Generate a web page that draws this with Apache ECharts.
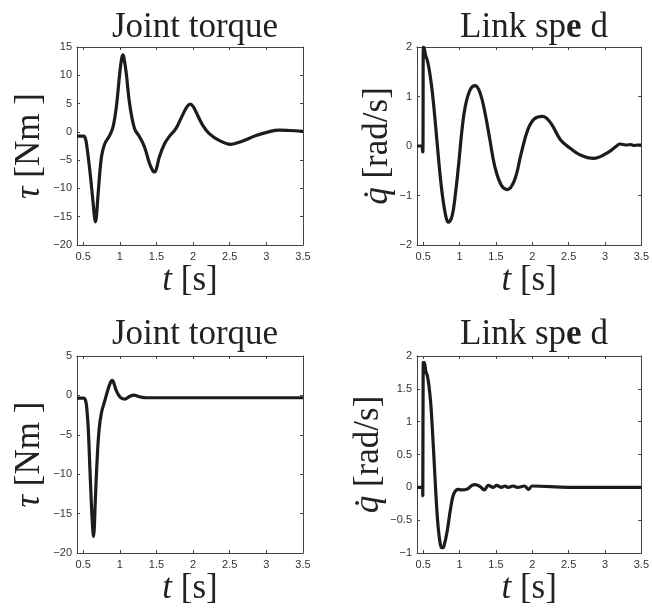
<!DOCTYPE html>
<html><head><meta charset="utf-8">
<script src="https://cdn.jsdelivr.net/npm/echarts@6/dist/echarts.min.js"></script>
<style>html,body{margin:0;padding:0;background:#fff}#c{width:652px;height:609px}</style>
</head><body><div id="c"></div>
<script>
// ---- data ----
const xTickValues = [0.5, 1, 1.5, 2, 2.5, 3, 3.5];
const xMin = 0.415, xMax = 3.5;

// top-left: joint torque (case A)
const torqueAT = [0.415,0.51,0.53,0.545,0.59,0.636,0.655,0.667,0.68,0.70,0.749,0.794,0.862,0.907,0.952,0.998,1.025,1.043,1.06,1.088,1.133,1.20,1.27,1.337,1.405,1.45,1.473,1.495,1.54,1.61,1.676,1.767,1.857,1.92,1.96,2.0,2.04,2.13,2.22,2.355,2.51,2.67,2.85,3.03,3.17,3.31,3.5];
const torqueAV = [-0.77,-0.77,-1.2,-2.1,-6.8,-12.7,-15.2,-15.9,-15.0,-11.5,-4.4,-2.1,-0.6,0.9,4.4,10.3,13.0,13.6,12.8,10.3,5.0,0.6,-0.9,-2.7,-5.6,-6.9,-7.1,-6.7,-4.4,-2.1,-0.8,0.6,3.0,4.5,4.9,4.5,3.5,1.2,-0.3,-1.5,-2.2,-1.65,-0.7,0,0.3,0.24,0.1];

// top-right: link speed (case A)
const speedAT = [0.415,0.485,0.493,0.497,0.503,0.514,0.536,0.559,0.59,0.627,0.672,0.717,0.762,0.81,0.844,0.898,0.943,0.989,1.034,1.079,1.147,1.215,1.283,1.35,1.418,1.486,1.577,1.658,1.756,1.848,1.939,2.03,2.142,2.256,2.39,2.527,2.66,2.84,3.02,3.16,3.2,3.25,3.3,3.35,3.4,3.45,3.5];
const speedAV = [0,0,-0.12,-0.1,2.0,1.97,1.82,1.72,1.48,1.07,0.39,-0.35,-0.97,-1.41,-1.54,-1.41,-0.97,-0.35,0.33,0.8,1.14,1.22,1.07,0.67,0.12,-0.42,-0.8,-0.88,-0.69,-0.15,0.33,0.55,0.6,0.46,0.12,-0.05,-0.18,-0.25,-0.15,0,0.04,0.03,0.02,0.03,0.01,0.02,0.02];

// bottom-left: joint torque (case B)
const torqueBT = [0.415,0.51,0.53,0.545,0.567,0.59,0.613,0.63,0.64,0.65,0.662,0.69,0.717,0.749,0.794,0.84,0.875,0.898,0.92,0.952,1.007,1.066,1.133,1.19,1.27,1.36,2.0,3.0,3.5];
const torqueBV = [-0.34,-0.34,-0.6,-1.3,-3.9,-9.0,-14.1,-17.0,-17.9,-17.0,-14.1,-8.1,-4.3,-2.2,-0.7,0.8,1.7,1.9,1.5,0.6,-0.26,-0.47,-0.13,0.04,-0.17,-0.3,-0.3,-0.3,-0.3];

// bottom-right: link speed (case B)
const speedBT = [0.415,0.49,0.495,0.5,0.514,0.536,0.559,0.58,0.604,0.627,0.65,0.672,0.695,0.717,0.735,0.753,0.77,0.785,0.83,0.876,0.92,0.98,1.034,1.1,1.17,1.215,1.283,1.34,1.396,1.464,1.51,1.577,1.622,1.667,1.735,1.8,1.89,1.95,2.0,2.5,3.5];
const speedBV = [0,0,-0.13,1.9,1.9,1.77,1.69,1.54,1.28,0.87,0.41,-0.05,-0.46,-0.72,-0.86,-0.92,-0.92,-0.9,-0.67,-0.33,-0.1,-0.03,-0.04,-0.03,0.03,0.04,0.01,-0.04,0.03,0,0.03,0,0.02,0,0.02,0,0.02,-0.03,0.02,0,0];

const yRanges = [[-20, 15, 5], [-2, 2, 1], [-20, 5, 5], [-1, 2, 0.5]];

// ---- build ----
const zip = (t, v) => t.map((x, i) => [x, v[i]]);
const seriesData = [zip(torqueAT, torqueAV), zip(speedAT, speedAV), zip(torqueBT, torqueBV), zip(speedBT, speedBV)];

const grids = [
  {left: 77, top: 47, width: 226, height: 198},
  {left: 417, top: 47, width: 227, height: 198},
  {left: 77, top: 356, width: 226, height: 197},
  {left: 417, top: 356, width: 227, height: 197}
];
const SERIF = 'Liberation Serif';
const lbl = {fontFamily: 'Liberation Sans', fontSize: 11, color: '#333'};
const axisLineStyle = {show: true, onZero: false, lineStyle: {color: '#444', width: 1}};
const tickStyle = {show: true, inside: true, length: 3, lineStyle: {color: '#444', width: 1}};
const minus = v => String(v).replace('-', '\u2212');

const tauName = {name: '{i|τ} [Nm ]', gap: 30};
const qName = {name: '{i|q\u0307} [rad/s]', gap: 22};
const nameRich = {
  fontFamily: SERIF, fontSize: 35, color: '#222',
  rich: {
    i: {fontFamily: SERIF, fontSize: 35, fontStyle: 'italic', color: '#222'}
  }
};

const xAxes = [], yAxes = [], series = [];
grids.forEach((g, i) => {
  xAxes.push({
    type: 'value', gridIndex: i, min: xMin, max: xMax, position: 'bottom',
    axisLine: axisLineStyle, splitLine: {show: false},
    axisTick: Object.assign({customValues: xTickValues}, tickStyle),
    axisLabel: Object.assign({customValues: xTickValues, margin: 6, formatter: minus}, lbl),
    name: '{i|t} [s]', nameLocation: 'middle', nameGap: 16, nameTextStyle: nameRich
  });
  xAxes.push({
    type: 'value', gridIndex: i, min: xMin, max: xMax, position: 'top',
    axisLine: axisLineStyle, splitLine: {show: false},
    axisTick: Object.assign({customValues: xTickValues}, tickStyle),
    axisLabel: {show: false}
  });
  const [mn, mx, iv] = yRanges[i];
  const nm = (i % 2 === 0) ? tauName : qName;
  yAxes.push({
    type: 'value', gridIndex: i, min: mn, max: mx, interval: iv, position: 'left',
    axisLine: axisLineStyle, splitLine: {show: false}, axisTick: tickStyle,
    axisLabel: Object.assign({margin: 5, formatter: minus}, lbl),
    name: nm.name, nameLocation: 'middle', nameGap: nm.gap, nameTextStyle: nameRich
  });
  yAxes.push({
    type: 'value', gridIndex: i, min: mn, max: mx, interval: iv, position: 'right',
    axisLine: axisLineStyle, splitLine: {show: false}, axisTick: tickStyle,
    axisLabel: {show: false}
  });
  series.push({
    type: 'line', xAxisIndex: i * 2, yAxisIndex: i * 2, data: seriesData[i],
    showSymbol: false, smooth: 0.4,
    lineStyle: {color: '#1c1c1c', width: 3.2}, clip: true
  });
});

const titleStyle = {fontFamily: SERIF, fontSize: 35, fontWeight: 'normal', color: '#222'};
const speedTitle = {
  rich: {
    a: {fontFamily: SERIF, fontSize: 35, color: '#222'},
    b: {fontFamily: SERIF, fontSize: 35, fontWeight: 'bold', color: '#222'}
  }
};
const titles = [
  {text: 'Joint torque', left: 190, top: 5, textAlign: 'center', textStyle: titleStyle},
  {text: '{a|Link sp}{b|e}{a| d}', left: 529, top: 5, textAlign: 'center', textStyle: Object.assign({}, titleStyle, speedTitle)},
  {text: 'Joint torque', left: 190, top: 312, textAlign: 'center', textStyle: titleStyle},
  {text: '{a|Link sp}{b|e}{a| d}', left: 529, top: 312, textAlign: 'center', textStyle: Object.assign({}, titleStyle, speedTitle)}
];

const chart = echarts.init(document.getElementById('c'), null, {renderer: 'canvas'});
chart.setOption({
  animation: false,
  backgroundColor: '#fff',
  title: titles,
  grid: grids,
  xAxis: xAxes,
  yAxis: yAxes,
  series: series
});
</script>
</body></html>
